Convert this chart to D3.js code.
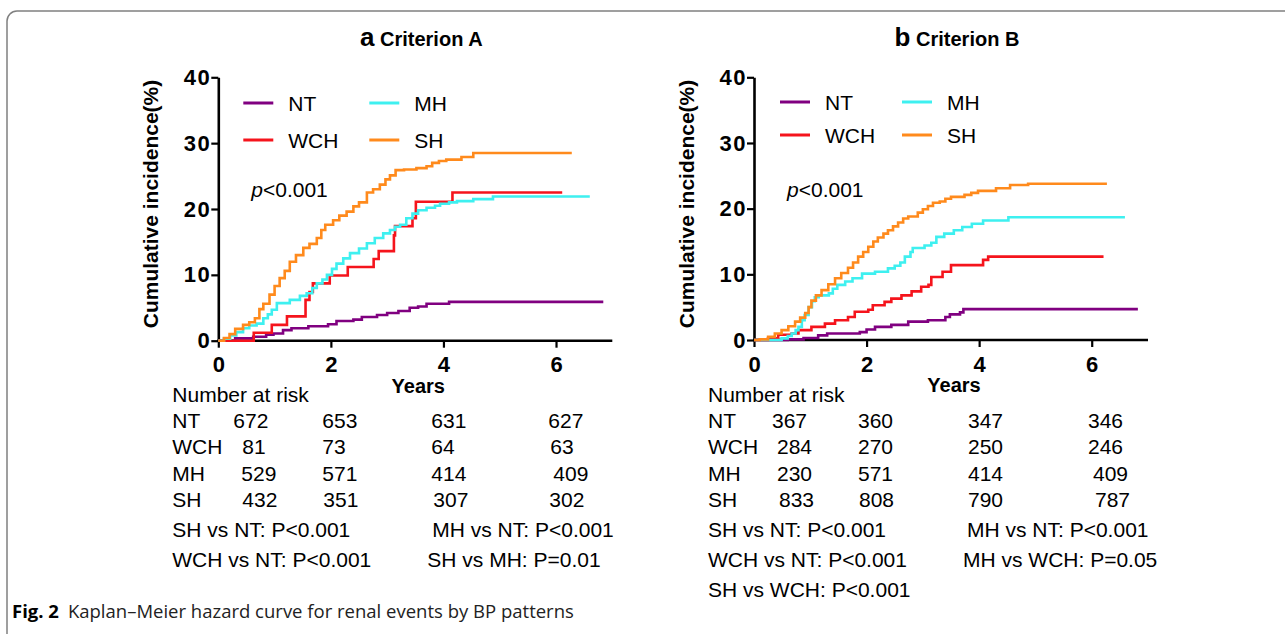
<!DOCTYPE html>
<html>
<head>
<meta charset="utf-8">
<script src="https://cdn.jsdelivr.net/npm/d3@7"></script>
<style>
  body { margin: 0; background: #fff; }
  svg { display: block; font-family: "Liberation Sans", Arial, sans-serif; }
</style>
</head>
<body>
<svg id="fig" width="1285" height="634"></svg>
<script>
// groups, colours, tick labels
const groups = ["NT", "WCH", "MH", "SH"];
const riskYears = [0, 2, 4, 6];
const yTicks = [0, 10, 20, 30, 40];
const xTicks = [0, 2, 4, 6];

// criterion A curves: [years, cumulative incidence %]
const ntA = [[0,0],[0.3,0.35],[0.62,0.6],[0.85,0.9],[0.98,1.1],[1.15,1.6],[1.3,1.9],[1.6,2.2],[1.95,2.5],[2.1,3.0],[2.4,3.2],[2.55,3.6],[2.82,3.9],[3.0,4.2],[3.2,4.5],[3.4,5.0],[3.55,5.2],[3.7,5.6],[4.1,5.9],[6.84,5.9]];
const wchA = [[0,0],[0.63,1.2],[0.95,2.4],[1.22,3.7],[1.55,6.2],[1.62,7.4],[1.68,8.7],[1.98,9.9],[2.3,11.2],[2.76,12.4],[2.85,13.6],[3.12,16.0],[3.14,17.4],[3.45,18.6],[3.51,21.1],[4.16,22.5],[6.11,22.5]];
const mhA = [[0,0],[0.1,0.3],[0.21,0.8],[0.32,1.3],[0.44,1.9],[0.55,2.3],[0.68,2.6],[0.8,3.4],[0.88,4.0],[0.95,4.7],[1.04,5.7],[1.27,6.2],[1.45,6.8],[1.57,7.2],[1.67,8.0],[1.75,8.7],[1.85,9.3],[1.93,10.0],[2.02,10.9],[2.1,11.7],[2.22,12.5],[2.34,13.3],[2.5,14.0],[2.64,14.8],[2.78,15.6],[2.93,16.3],[3.05,16.8],[3.14,17.3],[3.23,17.6],[3.34,18.6],[3.45,19.3],[3.55,19.8],[3.7,20.2],[3.85,20.5],[3.94,20.8],[4.1,21.0],[4.24,21.2],[4.53,21.5],[4.88,21.9],[6.6,21.9]];
const shA = [[0,0],[0.1,0.4],[0.2,1.0],[0.3,1.8],[0.44,2.4],[0.55,2.8],[0.65,3.4],[0.73,4.8],[0.8,5.6],[0.91,7.0],[1.0,8.3],[1.09,9.5],[1.18,10.6],[1.27,12.0],[1.38,13.0],[1.51,14.1],[1.62,14.7],[1.75,15.6],[1.83,16.8],[1.9,17.6],[2.04,18.3],[2.15,19.0],[2.28,19.6],[2.4,20.4],[2.5,21.0],[2.64,22.5],[2.75,23.0],[2.87,23.7],[2.97,24.5],[3.05,25.1],[3.15,25.9],[3.3,26.0],[3.52,26.2],[3.7,26.5],[3.8,27.0],[3.92,27.3],[4.05,27.5],[4.32,27.9],[4.53,28.5],[6.28,28.5]];

// criterion B curves
const ntB = [[0,0],[0.6,0.1],[0.88,0.3],[1.14,0.7],[1.3,1.0],[1.88,1.2],[2.0,1.6],[2.15,2.0],[2.44,2.3],[2.74,2.8],[3.09,3.0],[3.4,3.5],[3.48,3.9],[3.66,4.2],[3.72,4.7],[6.82,4.7]];
const wchB = [[0,0],[0.25,0.25],[0.43,0.8],[0.67,1.0],[0.79,1.5],[1.02,2.0],[1.26,2.5],[1.44,3.0],[1.67,3.5],[1.79,4.3],[2.03,4.6],[2.11,5.3],[2.32,5.8],[2.44,6.3],[2.62,6.8],[2.8,7.4],[2.97,8.1],[3.1,8.4],[3.15,9.6],[3.35,10.4],[3.5,11.4],[4.07,12.2],[4.16,12.7],[6.21,12.7]];
const mhB = [[0,0],[0.49,0.25],[0.6,0.6],[0.67,1.0],[0.74,1.5],[0.79,2.0],[0.85,3.0],[0.9,3.8],[0.97,5.0],[1.03,5.9],[1.08,6.5],[1.15,6.8],[1.33,7.1],[1.4,7.8],[1.48,8.4],[1.62,8.9],[1.75,9.4],[1.92,10.1],[2.15,10.4],[2.38,10.9],[2.5,11.3],[2.6,11.8],[2.68,12.7],[2.78,13.4],[2.82,14.0],[3.03,14.4],[3.15,14.8],[3.24,15.7],[3.38,16.2],[3.55,16.7],[3.7,17.2],[3.87,17.7],[4.07,18.2],[4.52,18.7],[6.59,18.7]];
const shB = [[0,0],[0.1,0.1],[0.25,0.5],[0.37,1.0],[0.49,1.5],[0.61,2.1],[0.73,2.8],[0.82,3.4],[0.91,4.1],[0.97,5.0],[1.02,6.0],[1.1,6.8],[1.2,7.6],[1.32,8.5],[1.44,9.4],[1.55,10.2],[1.67,11.0],[1.76,11.8],[1.85,12.7],[1.94,13.4],[2.03,14.2],[2.12,15.0],[2.2,15.6],[2.3,16.2],[2.38,16.7],[2.47,17.3],[2.56,17.9],[2.65,18.5],[2.74,18.8],[2.91,19.4],[3.0,19.9],[3.09,20.4],[3.18,20.9],[3.3,21.1],[3.4,21.5],[3.5,21.8],[3.74,22.1],[3.86,22.4],[3.98,22.7],[4.3,23.1],[4.55,23.6],[4.87,23.8],[6.27,23.8]];

// number at risk
const riskA = [[672, 653, 631, 627], [81, 73, 64, 63], [529, 571, 414, 409], [432, 351, 307, 302]];
const riskB = [[367, 360, 347, 346], [284, 270, 250, 246], [230, 571, 414, 409], [833, 808, 790, 787]];

// pairwise log-rank results
const compA = ["SH vs NT: P<0.001", "MH vs NT: P<0.001", "WCH vs NT: P<0.001", "SH vs MH: P=0.01"];
const compB = ["SH vs NT: P<0.001", "MH vs NT: P<0.001", "WCH vs NT: P<0.001", "MH vs WCH: P=0.05", "SH vs WCH: P<0.001"];

const COLORS = { NT: "#800080", WCH: "#f5141c", MH: "#3ef0f0", SH: "#ff8a1c" };

const svg = d3.select("#fig");

// rounded frame
svg.append("path")
  .attr("d", "M7,634 V21 A10,10 0 0 1 17,11 H1285")
  .attr("fill", "none")
  .attr("stroke", "#808080")
  .attr("stroke-width", 1.5);

function panel(opt) {
  const g = svg.append("g");
  const x = d3.scaleLinear().domain([0, 7]).range([opt.x0, opt.x0 + 394]);
  const y = d3.scaleLinear().domain([0, 40]).range([opt.y0, 77.3]);

  // title
  const t = g.append("text")
    .attr("x", opt.x0 + 203).attr("y", 46)
    .attr("text-anchor", "middle").attr("font-weight", "bold");
  t.append("tspan").attr("font-size", 26).text(opt.letter);
  t.append("tspan").attr("font-size", 20).text(" " + opt.title);

  const yAxis = d3.axisLeft(y).tickValues(yTicks).tickSize(7).tickSizeOuter(0).tickPadding(0);
  const xAxis = d3.axisBottom(x).tickValues(xTicks).tickFormat(d3.format("d"))
    .tickSize(7).tickSizeOuter(0).tickPadding(9);

  const ya = g.append("g").attr("transform", `translate(${opt.x0},0)`).call(yAxis);
  const xa = g.append("g").attr("transform", `translate(0,${opt.y0})`).call(xAxis);
  [ya, xa].forEach(a => {
    a.select(".domain").attr("stroke-width", 2.6);
    a.selectAll(".tick line").attr("stroke-width", 2.2);
    a.selectAll(".tick text")
      .attr("font-size", 22).attr("font-weight", "bold")
      .attr("font-family", "'Liberation Sans', Arial, sans-serif")
      .attr("fill", "#000");
  });
  ya.selectAll(".tick text").attr("letter-spacing", 1.5);
  // make the x axis line reach the y axis line
  xa.select(".domain").attr("d", `M${opt.x0 - 1},0H${x(7)}`);

  g.append("text")
    .attr("transform", `translate(${opt.x0 - 60},204) rotate(-90)`)
    .attr("text-anchor", "middle")
    .attr("font-size", 21).attr("font-weight", "bold")
    .text("Cumulative incidence(%)");

  g.append("text")
    .attr("x", opt.x0 + 200).attr("y", opt.y0 + 52)
    .attr("text-anchor", "middle")
    .attr("font-size", 20).attr("font-weight", "bold")
    .text("Years");

  const line = d3.line()
    .x(d => x(d[0]))
    .y(d => y(d[1]))
    .curve(d3.curveStepAfter);

  opt.curves.forEach((c, i) => {
    g.append("path")
      .attr("d", line(c))
      .attr("fill", "none")
      .attr("stroke", COLORS[groups[i]])
      .attr("stroke-width", 2.6);
  });

  // legend, 2 columns
  groups.forEach((name, i) => {
    const col = i < 2 ? 0 : 1;
    const row = i % 2;
    const lx = opt.x0 + opt.legX[col];
    const ly = opt.legY[row];
    g.append("line")
      .attr("x1", lx).attr("x2", lx + 30)
      .attr("y1", ly).attr("y2", ly)
      .attr("stroke", COLORS[name]).attr("stroke-width", 3);
    g.append("text")
      .attr("x", lx + 45).attr("y", ly + 8)
      .attr("font-size", 21)
      .text(name);
  });

  const p = g.append("text")
    .attr("x", opt.x0 + 33).attr("y", 197)
    .attr("font-size", 21);
  p.append("tspan").attr("font-style", "italic").text("p");
  p.append("tspan").text("<0.001");

  // number at risk table
  const tx = opt.x0 - 46;
  const tbl = g.append("g").attr("font-size", 21);
  tbl.append("text").attr("x", tx).attr("y", 402).text("Number at risk");
  groups.forEach((name, r) => {
    const yy = 428 + r * 26.4;
    tbl.append("text").attr("x", tx).attr("y", yy).text(name);
    opt.risk[r].forEach((v, c) => {
      tbl.append("text")
        .attr("x", opt.x0 + opt.colX[r][c])
        .attr("y", yy)
        .text(v);
    });
  });
  opt.comps.forEach((s, i) => {
    const col = i % 2;
    const row = Math.floor(i / 2);
    tbl.append("text")
      .attr("x", col === 0 ? tx : opt.x0 + opt.compX[row])
      .attr("y", 537 + row * 30)
      .text(s);
  });
}

panel({ x0: 218.3, y0: 340.7, letter: "a", title: "Criterion A",
  curves: [ntA, wchA, mhA, shA], risk: riskA, comps: compA,
  legX: [25, 151], legY: [103, 140],
  colX: [[15, 104, 213, 330], [24, 104, 213, 332], [23, 104, 213, 335], [24, 105, 215, 331]],
  compX: [214, 209] });
panel({ x0: 754, y0: 340, letter: "b", title: "Criterion B",
  curves: [ntB, wchB, mhB, shB], risk: riskB, comps: compB,
  legX: [26, 148], legY: [102, 135],
  colX: [[18, 104, 214, 334], [23, 104, 214, 334], [23, 104, 214, 339], [25, 105, 214, 341]],
  compX: [213, 209] });

// caption
const cap = svg.append("text")
  .attr("x", 12).attr("y", 618)
  .attr("font-family", "'Open Sans', 'Noto Sans', sans-serif")
  .attr("font-size", 18.5);
cap.append("tspan").attr("font-weight", "bold").text("Fig. 2");
cap.append("tspan").attr("dx", 9).attr("fill", "#222")
  .text("Kaplan\u2013Meier hazard curve for renal events by BP patterns");
</script>
</body>
</html>
